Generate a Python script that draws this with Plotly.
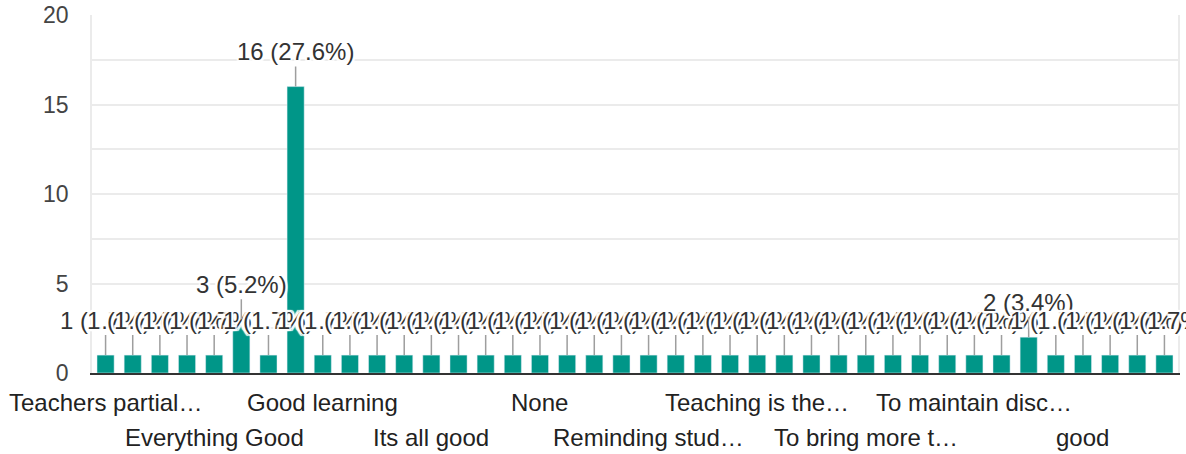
import plotly.graph_objects as go

categories = [
    "Teachers partial…", "All good", "Best", "Discipline", "Everything Good",
    "Excellent", "Fine", "Good", "Good learning", "Good teachers",
    "Happy", "It's good", "Its all good", "Maintain discipline", "Nice",
    "No", "None", "Nothing", "Ok", "Punctuality",
    "Reminding stud…", "Satisfied", "Strict", "Teaching is good", "Teaching is the…",
    "Teaching method", "The teachers are good", "To be regular", "To bring more t…", "To give homework",
    "To improve", "To listen", "To maintain disc…", "To teach well", "Very good",
    "Well", "good", "nice", "no", "ok",
]
values = [
    1, 1, 1, 1, 1, 3, 1, 16, 1, 1,
    1, 1, 1, 1, 1, 1, 1, 1, 1, 1,
    1, 1, 1, 1, 1, 1, 1, 1, 1, 1,
    1, 1, 1, 1, 2, 1, 1, 1, 1, 1,
]
shown_labels = categories[::4]
y_ticks = [0, 5, 10, 15, 20]

total = sum(values)
FONT = "Arial, 'Liberation Sans', sans-serif"
halo = ("white 2px 0px 1px, white -2px 0px 1px, white 0px 2px 1px, white 0px -2px 1px, "
        "white 2px 2px 1px, white -2px -2px 1px, white 2px -2px 1px, white -2px 2px 1px")

fig = go.Figure(go.Bar(x=categories, y=values, marker_color="#009688", hoverinfo="skip"))

annotations = []
for c, v in zip(categories, values):
    annotations.append(dict(
        x=c, y=v, xref="x", yref="y",
        text=f"{v} ({v / total * 100:.1f}%)",
        showarrow=True, arrowhead=0, arrowwidth=1.5, arrowcolor="#9e9e9e",
        ax=0, ay=-35,
        font=dict(family=FONT, size=24, color="#333333", shadow=halo),
    ))
for k, c in enumerate(shown_labels):
    annotations.append(dict(
        x=c, y=0, xref="x", yref="paper", yanchor="middle",
        yshift=-29 if k % 2 == 0 else -64,
        text=c, showarrow=False,
        font=dict(family=FONT, size=24, color="#222222"),
    ))

fig.update_layout(
    width=1186, height=454,
    margin=dict(l=92, r=8, t=15, b=81, autoexpand=False),
    paper_bgcolor="white", plot_bgcolor="white",
    bargap=0.37, showlegend=False,
    annotations=annotations,
    xaxis=dict(showticklabels=False, showgrid=False, showline=True,
               range=[-0.5, len(categories) - 0.5], autorange=False, automargin=False,
               linecolor="#333333", linewidth=2, ticks=""),
    yaxis=dict(range=[0, 20], autorange=False, automargin=False,
               tickvals=y_ticks, showgrid=True, gridcolor="#ebebeb",
               gridwidth=1.5, zeroline=False, showline=True, mirror=True,
               linecolor="#ebebeb", linewidth=1.5,
               tickfont=dict(family=FONT, size=23, color="#444444"),
               ticklabelstandoff=17, ticklabeloverflow="allow",
               minor=dict(dtick=2.5, showgrid=True, gridcolor="#ebebeb", gridwidth=1.5)),
)

fig.write_html("out.html", config={"displayModeBar": False},
               post_script="document.body.style.margin='0';")
